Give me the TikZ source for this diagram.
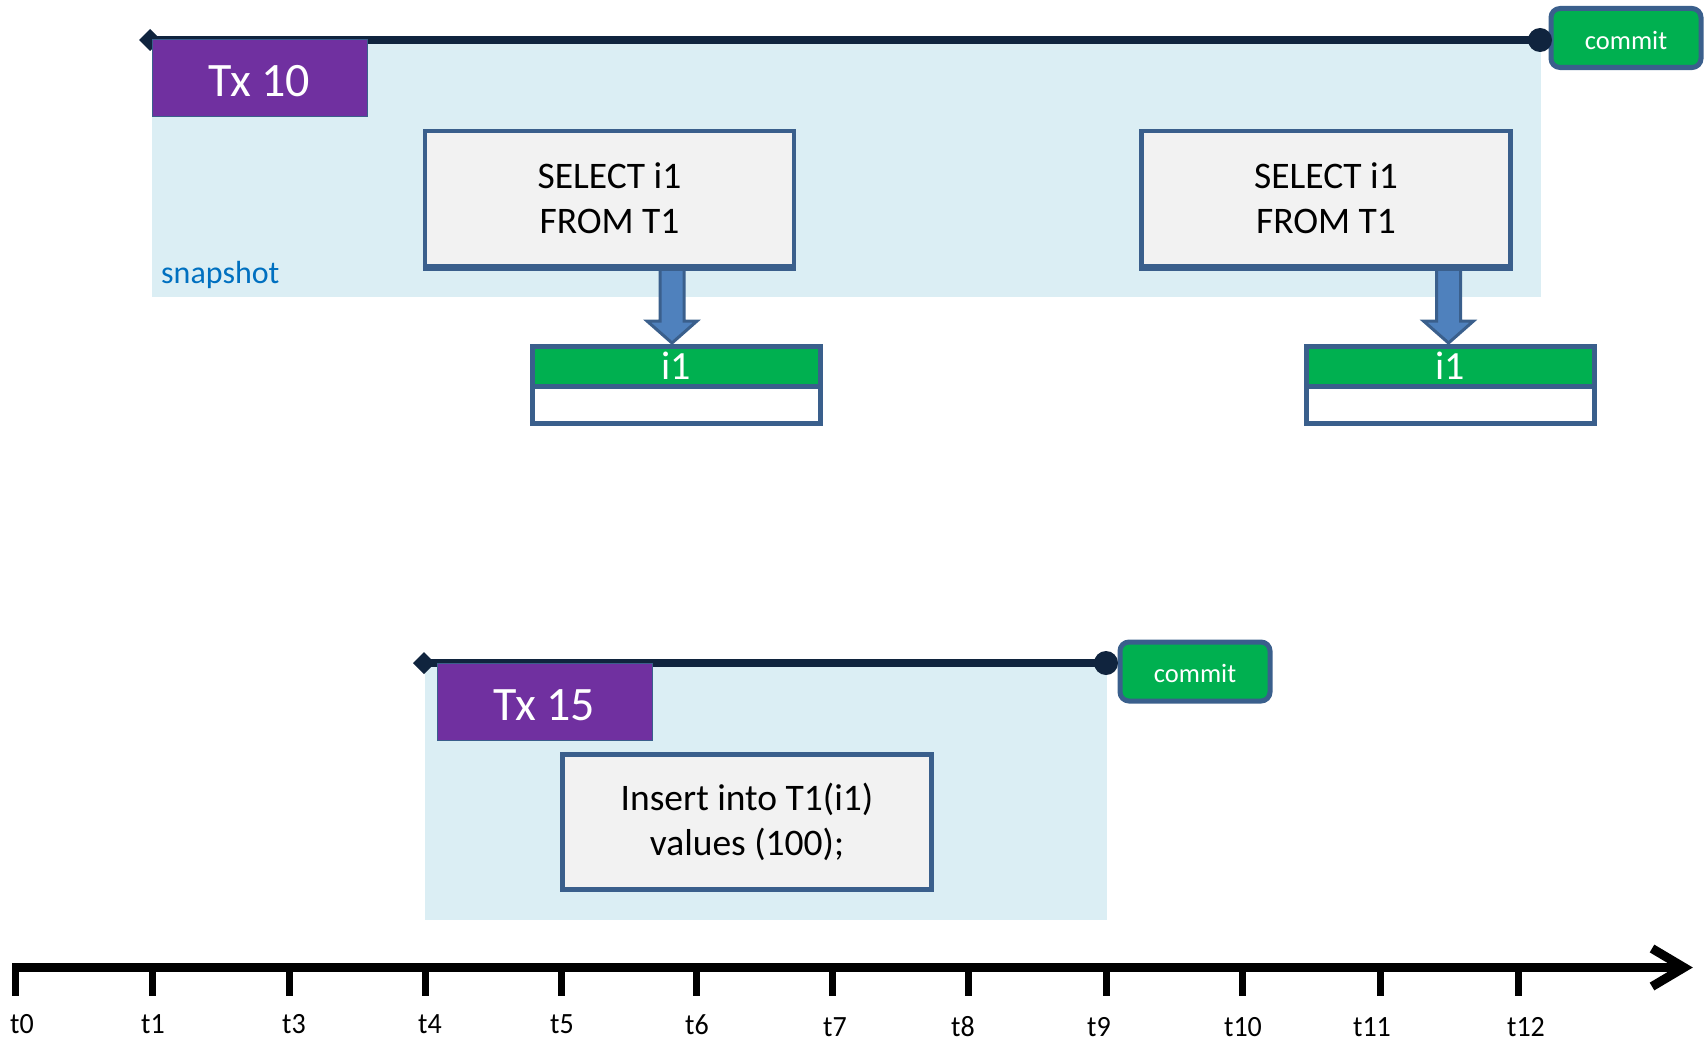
\documentclass[tikz,border=0pt]{standalone}
\usepackage{fontspec}
\setmainfont{Carlito}
\usetikzlibrary{calc}

\definecolor{txbg}{HTML}{DBEEF4}
\definecolor{txpurple}{HTML}{7030A0}
\definecolor{okgreen}{HTML}{00B050}
\definecolor{navy}{HTML}{10243E}
\definecolor{frame}{HTML}{3A5F8C}
\definecolor{stmtfill}{HTML}{F2F2F2}
\definecolor{arrowblue}{HTML}{4F81BD}
\definecolor{snapblue}{HTML}{0070C0}

\tikzset{
  txband/.style={fill=txbg, draw=none},
  txline/.style={draw=navy, line width=8},
  enddot/.style={circle, fill=navy, minimum size=24, inner sep=0},
  txlabel/.style={fill=txpurple, draw=frame, line width=0.6, text=white,
    minimum width=215, minimum height=77, inner sep=0,
    text height=37.5pt, text depth=0pt,
    font=\fontsize{48}{56}\selectfont},
  stmtbox/.style={draw=frame, line width=4.5, fill=stmtfill, align=center,
    minimum width=369, minimum height=135, inner sep=0,
    font=\fontsize{37.5}{45}\selectfont},
  commitbox/.style={draw=frame, line width=5, fill=okgreen, rounded corners=9,
    text=white, minimum width=150, minimum height=59, inner sep=0,
    text height=22pt, text depth=0pt,
    font=\fontsize{26.5}{30}\selectfont},
  headrow/.style={draw=frame, line width=5, fill=okgreen, text=white,
    minimum width=288, minimum height=40, inner sep=0, outer sep=0,
    font=\fontsize{40}{44}\selectfont},
  emptyrow/.style={draw=frame, line width=5, fill=white,
    minimum width=288, minimum height=37.5, inner sep=0, outer sep=0},
  blockarrow/.style={fill=arrowblue, draw=frame, line width=3, line join=miter},
  snaplabel/.style={text=snapblue, inner sep=0, font=\fontsize{32}{36}\selectfont},
  axisline/.style={draw=black, line width=9},
  tickmark/.style={draw=black, line width=7},
  ticklabel/.style={inner sep=0, yscale=1.05, font=\fontsize{28}{32}\selectfont},
}

% block arrow from the bottom of a statement box down onto a row;
% #3 shifts the arrow sideways against the row's centre
\newcommand{\readarrow}[3]{%
  \filldraw[blockarrow] let \p1=(#1.south), \p2=($(#2.north)+(#3,0)$) in
    (\x2-12,\y1) -- (\x2-12,\y2+25) -- (\x2-25,\y2+25) -- (\x2,\y2+3)
    -- (\x2+25,\y2+25) -- (\x2+12,\y2+25) -- (\x2+12,\y1) -- cycle;}

\begin{document}
\begin{tikzpicture}[x=1pt, y=-1pt]
\useasboundingbox (0,0) rectangle (1704,1041);

% ---------- transaction 10 ----------
\fill[txband] (152,40) rectangle (1541,297);
\coordinate (s10) at (150,40);
\node[commitbox] (c10) at (1626,38) {commit};
\node[enddot] (e10) at (1540,40) {};
\draw[txline] (s10) -- (e10.center);
\fill[navy] (s10) ++(-11,0) -- ++(11,-11) -- ++(11,11) -- ++(-11,11) -- cycle;
\node[txlabel] (tx10) at (259.5,77.5) {Tx 10};
\node[snaplabel, anchor=west] (snap) at (161,275) {snapshot};

\node[headrow] (tab1) at (676,366) {i1};
\node[emptyrow, anchor=north] (row1) at (tab1.south) {};
\node[headrow] (tab2) at (1450.5,366) {i1};
\node[emptyrow, anchor=north] (row2) at (tab2.south) {};

\node[stmtbox] (sel1) at (609.5,198.5) {SELECT i1\\FROM T1};
\node[stmtbox] (sel2) at (1326,198.5) {SELECT i1\\FROM T1};

% read arrows from the statements to the row
\readarrow{sel1}{tab1}{-4}
\readarrow{sel2}{tab2}{-2}
\draw[frame, line width=4.5] (sel1.south west) -- (sel1.south east);
\draw[frame, line width=4.5] (sel2.south west) -- (sel2.south east);
\draw[frame, line width=5] (tab1.north west) -- (tab1.north east);
\draw[frame, line width=5] (tab2.north west) -- (tab2.north east);

% ---------- transaction 15 ----------
\fill[txband] (425,667) rectangle (1107,920);
\coordinate (s15) at (424,663);
\node[commitbox] (c15) at (1195,671.5) {commit};
\node[enddot] (e15) at (1106,663) {};
\draw[txline] (s15) -- (e15.center);
\fill[navy] (s15) ++(-11,0) -- ++(11,-11) -- ++(11,11) -- ++(-11,11) -- cycle;
\node[txlabel] (tx15) at (544.5,702) {Tx 15};
\node[stmtbox] (ins) at (747,822) {Insert into T1(i1)\\values (100);};

% ---------- time axis ----------
\coordinate (ax0) at (12,967.5);
\coordinate (ax1) at (1684,967.5);
\draw[axisline] (ax0) -- (ax1);
\draw[axisline, line join=miter] ($(ax1)+(-32,-19)$) -- (ax1) -- ($(ax1)+(-32,19)$);
\foreach \tx/\lx/\lab/\ly in {15/22/t0/1024, 152/153/t1/1024, 289/294/t3/1024,
    425/430/t4/1024, 561/562/t5/1024, 696/697/t6/1025, 832/835/t7/1027,
    968/963/t8/1027, 1106/1099/t9/1027, 1242/1243/t10/1027,
    1380/1372/t11/1027, 1518/1526/t12/1027} {
  \draw[tickmark] (\tx,967) -- (\tx,996);
  \node[ticklabel] (lab\lab) at (\lx,\ly) {\lab};
}
\end{tikzpicture}
\end{document}
